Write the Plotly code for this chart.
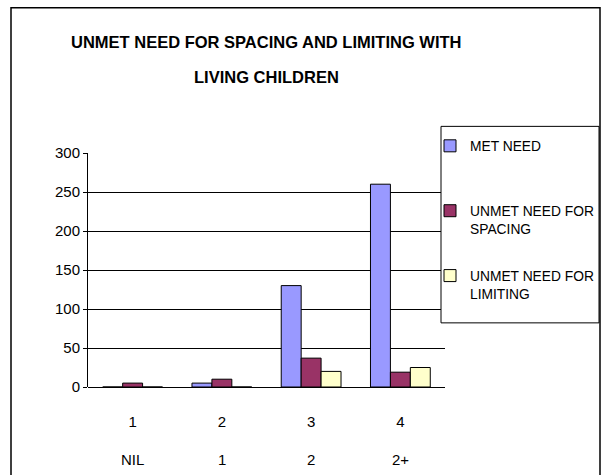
import plotly.graph_objects as go

# ---- data ----
categories = ["1", "2", "3", "4"]
second_row_labels = ["NIL", "1", "2", "2+"]
series_names = ["MET NEED<br> ", "UNMET NEED FOR<br>SPACING", "UNMET NEED FOR<br>LIMITING"]
met_need = [0, 5, 130, 260]
unmet_spacing = [5, 10, 37, 19]
unmet_limiting = [0, 0, 20, 25]
colors = ["#9999FF", "#993366", "#FFFFCC"]
y_ticks = [0, 50, 100, 150, 200, 250, 300]
title_lines = ["UNMET NEED FOR SPACING AND LIMITING WITH", "LIVING CHILDREN"]

FONT = "Liberation Sans, Arial, sans-serif"

W, H = 602, 475
L, R, T, B = 88, 445, 152.7, 387.3  # plot area in px
pw, ph = R - L, B - T

fig = go.Figure()
for i, (name, vals) in enumerate(zip(series_names, [met_need, unmet_spacing, unmet_limiting])):
    fig.add_trace(go.Bar(
        x=categories, y=vals, name=name,
        marker=dict(color=colors[i], line=dict(color="black", width=1)),
        legendgroup=f"g{i}",
    ))

annotations = []
# second row of category labels (x given as category index)
for idx, lab in enumerate(second_row_labels):
    annotations.append(dict(x=idx, xref="x", y=0, yref="paper", text=lab, showarrow=False,
                            yanchor="middle", yshift=-(460 - B),
                            font=dict(family=FONT, size=15, color="black")))
# title lines (positions in px, converted to paper coords)
for line, ypx in zip(title_lines, [41, 77]):
    annotations.append(dict(x=(266 - L) / pw, xref="paper", y=(B - ypx) / ph, yref="paper",
                            text=f"<b>{line}</b>", showarrow=False,
                            xanchor="center", yanchor="middle",
                            font=dict(family=FONT, size=16.5, color="black")))

shapes = [
    # outer chart border
    dict(type="rect", xref="paper", yref="paper",
         x0=(11 - L) / pw, x1=(600 - L) / pw, y0=(B - 485) / ph, y1=(B - 7) / ph,
         line=dict(color="black", width=1.5), fillcolor="rgba(0,0,0,0)", layer="below"),
    # legend box
    dict(type="rect", xref="paper", yref="paper",
         x0=(441 - L) / pw, x1=(599 - L) / pw, y0=(B - 323) / ph, y1=(B - 126) / ph,
         line=dict(color="black", width=1), fillcolor="white", layer="above"),
]

fig.update_layout(
    width=W, height=H,
    margin=dict(l=L, r=W - R, t=T, b=H - B, pad=0, autoexpand=False),
    paper_bgcolor="white", plot_bgcolor="white",
    barmode="group", bargap=0.33, bargroupgap=0,
    font=dict(family=FONT, size=15, color="black"),
    showlegend=True,
    legend=dict(
        x=(430 - L) / pw, xanchor="left",
        y=(B - 130) / ph, yanchor="top",
        bgcolor="rgba(0,0,0,0)", borderwidth=0,
        font=dict(family=FONT, size=13.8, color="black"),
        valign="top", tracegroupgap=26, itemwidth=30,
    ),
    xaxis=dict(type="category", range=[-0.5, 3.5], showgrid=False, showline=False, ticks="",
               ticklabelstandoff=24, tickfont=dict(size=15), automargin=False),
    yaxis=dict(range=[0, 300], tickvals=y_ticks, showgrid=True, gridcolor="black", gridwidth=1,
               showline=True, linecolor="black", linewidth=1, ticks="outside", ticklen=4,
               tickcolor="black", zeroline=True, zerolinecolor="black", zerolinewidth=1,
               tickfont=dict(size=15), automargin=False),
    annotations=annotations,
    shapes=shapes,
)

fig.write_html("out.html")
